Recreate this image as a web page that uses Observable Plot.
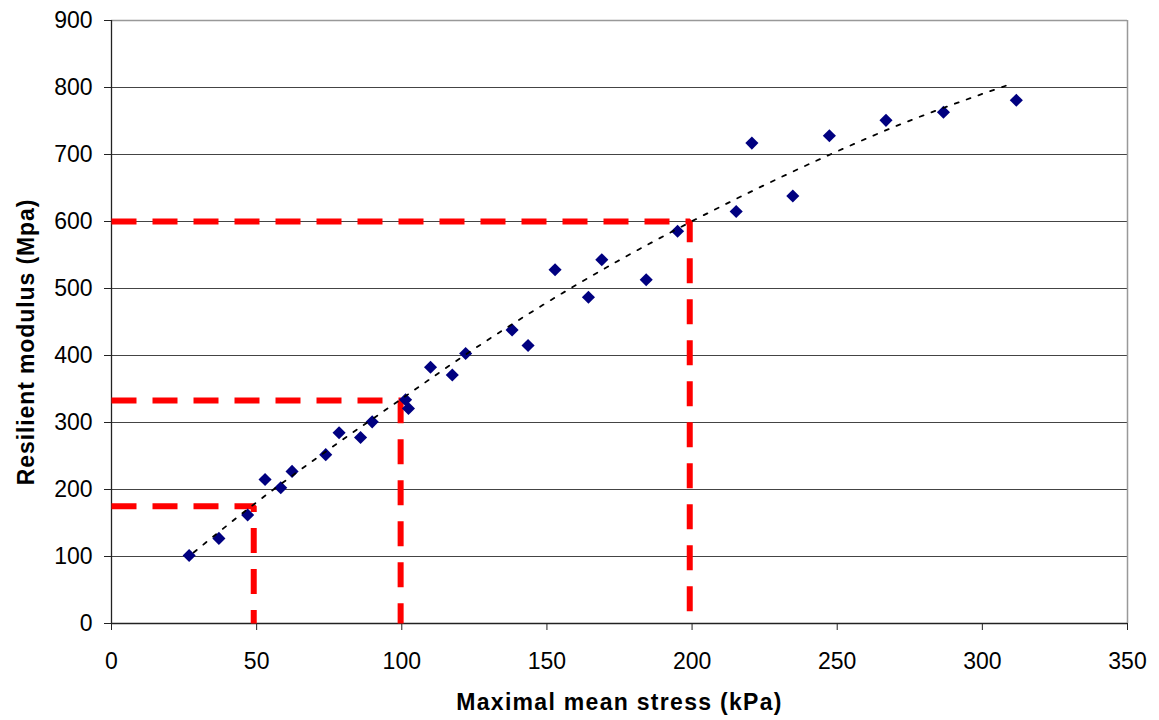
<!DOCTYPE html>
<html>
<head>
<meta charset="utf-8">
<script src="https://cdn.jsdelivr.net/npm/d3@7"></script>
<script src="https://cdn.jsdelivr.net/npm/@observablehq/plot@0.6"></script>
<style>
  html, body { margin: 0; padding: 0; background: #fff; }
  #chart svg { display: block; }
</style>
</head>
<body>
<div id="chart"></div>
<script>
// Measured points
const stressKPa = [26.75, 37.0, 46.9, 52.9, 58.3, 62.2, 73.8, 78.4, 85.8, 89.8, 101.3, 102.3, 109.9, 117.4, 122.0, 138.0, 143.5, 152.8, 164.3, 168.9, 184.2, 195.0, 215.2, 220.6, 234.7, 247.3, 266.8, 286.6, 311.7];
const modulusMPa = [101.5, 127, 162, 215, 202.5, 227, 252, 284.6, 277.6, 301, 334, 321, 382.5, 371, 403, 438, 415, 528, 487, 543, 513, 585.5, 615, 717, 638, 728, 751, 763, 781];

// Trend line (dotted)
const trendX = [28.3, 49.7, 74.6, 99.5, 124.3, 149.2, 174.0, 198.9, 223.8, 248.6, 273.5, 298.4, 309];
const trendY = [106, 180, 259, 334, 408, 477, 540, 598, 652, 702, 748, 788, 804];

// Red guide lines: stress value -> modulus value
const guideStress = [49, 99.6, 199.2];
const guideModulus = [175, 333, 600];

// Ticks
const xTicks = [0, 50, 100, 150, 200, 250, 300, 350];
const yTicks = [0, 100, 200, 300, 400, 500, 600, 700, 800, 900];

const xTitle = "Maximal mean stress (kPa)";
const yTitle = "Resilient modulus (Mpa)";

const points = stressKPa.map((x, i) => ({x, y: modulusMPa[i]}));
const trend = trendX.map((x, i) => ({x, y: trendY[i]}));
const guides = guideStress.flatMap((gx, i) => [
  {g: i, x: xTicks[0], y: guideModulus[i]},
  {g: i, x: gx, y: guideModulus[i]},
  {g: i, x: gx, y: yTicks[0]}
]);

const font = "'Liberation Sans', Arial, Helvetica, sans-serif";

const chart = Plot.plot({
  width: 1159,
  height: 720,
  marginLeft: 111,
  marginRight: 32,
  marginTop: 20,
  marginBottom: 97,
  style: {fontFamily: font, fontSize: "23px", color: "#000", background: "#fff"},
  x: {domain: [0, 350]},
  y: {domain: [0, 900]},
  marks: [
    Plot.ruleY(yTicks.slice(1, -1), {stroke: "#444", strokeWidth: 1}),
    Plot.ruleY([yTicks[yTicks.length - 1]], {stroke: "#999", strokeWidth: 1.5}),
    Plot.ruleX([xTicks[xTicks.length - 1]], {stroke: "#999", strokeWidth: 1.5}),
    Plot.ruleX([0], {stroke: "#222", strokeWidth: 1.3}),
    Plot.ruleY([0], {stroke: "#222", strokeWidth: 1.3}),
    Plot.axisX({ticks: xTicks, tickSize: 7, tickPadding: 22, fontSize: 23, label: null, stroke: "#222"}),
    Plot.axisY({ticks: yTicks, tickSize: 7, tickPadding: 12, fontSize: 23, label: null, stroke: "#222"}),
    Plot.line(guides, {x: "x", y: "y", z: "g", stroke: "#ff0000", strokeWidth: 6, strokeDasharray: "25,16", strokeLinecap: "butt", strokeLinejoin: "miter"}),
    Plot.dot(points, {x: "x", y: "y", symbol: "diamond2", r: 5.9, fill: "#000080", stroke: "none"}),
    Plot.line(trend, {x: "x", y: "y", curve: "monotone-x", stroke: "#000", strokeWidth: 1.8, strokeDasharray: "4,8.5"}),
    Plot.text([xTitle], {frameAnchor: "bottom", textAnchor: "middle", lineAnchor: "middle", dy: 79, fontSize: 23, fontWeight: "bold", fill: "#000"}),
    Plot.text([yTitle], {frameAnchor: "left", textAnchor: "middle", lineAnchor: "middle", dx: -85, dy: 20, rotate: -90, fontSize: 23, fontWeight: "bold", fill: "#000"})
  ]
});

// Excel-like wider tracking on the axis titles
const sel = d3.select(chart).selectAll("text");
sel.filter(function() { return this.textContent === xTitle; }).style("letter-spacing", "1.3px");
sel.filter(function() { return this.textContent === yTitle; }).style("letter-spacing", "0.9px");

document.getElementById("chart").appendChild(chart);
</script>
</body>
</html>
